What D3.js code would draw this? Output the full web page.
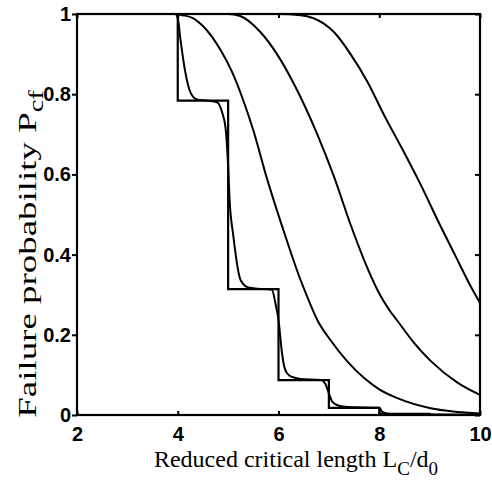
<!DOCTYPE html>
<html>
<head>
<meta charset="utf-8">
<script src="https://cdn.jsdelivr.net/npm/d3@7"></script>
<style>
  html, body { margin: 0; padding: 0; background: #fff; }
  svg { display: block; }
</style>
</head>
<body>
<svg id="chart" width="492" height="480"></svg>
<script>
// ---- data ----
const xTicks = [2, 4, 6, 8, 10];
const yTicks = [0, 0.2, 0.4, 0.6, 0.8, 1];

// discrete (staircase) failure probability
const stepX = [2, 4, 5, 6, 7, 8, 9, 10];
const stepP = [1, 0.784, 0.314, 0.087, 0.018, 0.003, 0.0005, 0.0005];

// smooth curve closely following the staircase
const curveAX = [2, 3.95, 4.0, 4.05, 4.15, 4.25, 4.38, 4.6, 4.78, 4.88, 4.95, 5.0, 5.03, 5.1, 5.25, 5.4, 5.6, 5.87, 5.94, 6.0, 6.07, 6.1, 6.17, 6.27, 6.44, 6.84, 6.94, 7.0, 7.07, 7.2, 7.37, 8.0, 8.06, 8.23, 9.0, 10];
const curveAP = [1, 1, 0.99, 0.94, 0.855, 0.805, 0.787, 0.784, 0.78, 0.755, 0.715, 0.62, 0.535, 0.45, 0.336, 0.318, 0.315, 0.312, 0.278, 0.237, 0.154, 0.129, 0.104, 0.095, 0.09, 0.087, 0.075, 0.054, 0.033, 0.023, 0.02, 0.018, 0.008, 0.0025, 0.001, 0.0005];

// broader curves
const curveBX = [2, 3.95, 4.1, 4.3, 4.5, 4.85, 5.08, 5.3, 5.5, 5.77, 6.1, 6.44, 6.6, 6.77, 7.03, 7.37, 7.7, 8.0, 8.36, 9.02, 10];
const curveBP = [1, 1, 0.997, 0.99, 0.97, 0.91, 0.855, 0.785, 0.71, 0.59, 0.46, 0.336, 0.286, 0.237, 0.187, 0.133, 0.092, 0.064, 0.042, 0.017, 0.004];

const curveCX = [2, 5.0, 5.24, 5.64, 5.97, 6.33, 6.77, 7.1, 7.43, 7.77, 8.0, 8.2, 8.36, 8.69, 9.02, 9.56, 10];
const curveCP = [1, 1, 0.995, 0.955, 0.9, 0.82, 0.70, 0.595, 0.475, 0.365, 0.303, 0.262, 0.235, 0.18, 0.135, 0.08, 0.05];

const curveDX = [2, 6.0, 6.44, 6.9, 7.1, 7.43, 7.77, 8.1, 8.45, 8.8, 9.22, 9.5, 9.82, 10];
const curveDP = [1, 1, 0.997, 0.976, 0.955, 0.9, 0.83, 0.747, 0.665, 0.58, 0.47, 0.40, 0.32, 0.28];

// ---- drawing ----
const svg = d3.select("#chart");
const L = 77, R = 480, T = 14, B = 415;
const x = d3.scaleLinear().domain([2, 10]).range([L, R]);
const y = d3.scaleLinear().domain([0, 1]).range([B, T]);

const tickFont = "'Liberation Sans', Arial, Helvetica, sans-serif";
const titleFont = "'Liberation Serif', 'Times New Roman', serif";
const fmt = d => String(d);

// bottom axis (ticks inward)
const gx = svg.append("g").attr("transform", `translate(0,${B})`)
  .call(d3.axisBottom(x).tickValues(xTicks).tickFormat(fmt).tickSizeInner(-4).tickSizeOuter(0).tickPadding(12));
// top axis ticks (inward, no labels)
const gxt = svg.append("g").attr("transform", `translate(0,${T})`)
  .call(d3.axisTop(x).tickValues(xTicks).tickFormat("").tickSizeInner(-4).tickSizeOuter(0));
// left axis (ticks outward as in reference)
const gy = svg.append("g").attr("transform", `translate(${L},0)`)
  .call(d3.axisLeft(y).tickValues(yTicks).tickFormat(fmt).tickSizeInner(5).tickSizeOuter(0).tickPadding(1));
// right axis ticks inward
const gyr = svg.append("g").attr("transform", `translate(${R},0)`)
  .call(d3.axisRight(y).tickValues(yTicks).tickFormat("").tickSizeInner(-5).tickSizeOuter(0));

[gx, gxt, gy, gyr].forEach(g => {
  g.select(".domain").remove();
  g.selectAll(".tick line").attr("stroke", "#000").attr("stroke-width", 2);
  g.selectAll("text").attr("fill", "#000").attr("font-family", tickFont)
    .attr("font-weight", "bold").attr("font-size", 20);
});

// frame
svg.append("rect").attr("x", L).attr("y", T).attr("width", R - L).attr("height", B - T)
  .attr("fill", "none").attr("stroke", "#000").attr("stroke-width", 2.2);

// clip path
svg.append("clipPath").attr("id", "clip").append("rect")
  .attr("x", L - 1).attr("y", T - 1).attr("width", R - L + 2).attr("height", B - T + 2);

const plot = svg.append("g").attr("clip-path", "url(#clip)");

const lineSmooth = d3.line().x(d => x(d[0])).y(d => y(d[1])).curve(d3.curveMonotoneX);
const lineStep = d3.line().x(d => x(d[0])).y(d => y(d[1])).curve(d3.curveStepAfter);

const stepPts = stepX.map((v, i) => [v, i < stepP.length ? stepP[i] : stepP[stepP.length - 1]]);
plot.append("path").attr("d", lineStep(stepPts))
  .attr("fill", "none").attr("stroke", "#000").attr("stroke-width", 2.2);

[[curveAX, curveAP], [curveBX, curveBP], [curveCX, curveCP], [curveDX, curveDP]].forEach(([xs, ps]) => {
  plot.append("path").attr("d", lineSmooth(xs.map((v, i) => [v, ps[i]])))
    .attr("fill", "none").attr("stroke", "#000").attr("stroke-width", 2)
    .attr("stroke-linejoin", "round");
});

// x axis title
const xt = svg.append("text").attr("x", 296).attr("y", 467)
  .attr("text-anchor", "middle").attr("font-family", titleFont).attr("font-size", 24).attr("fill", "#000");
xt.append("tspan").text("Reduced critical length L");
xt.append("tspan").attr("font-size", 19).attr("dy", 8).text("C");
xt.append("tspan").attr("dy", -8).text("/d");
xt.append("tspan").attr("font-size", 19).attr("dy", 8).text("0");

// y axis title
const yt = svg.append("text").attr("transform", "translate(36,254) rotate(-90) scale(1.42,1)")
  .attr("text-anchor", "middle").attr("font-family", titleFont).attr("font-size", 26).attr("fill", "#000");
yt.append("tspan").text("Failure probability P");
yt.append("tspan").attr("font-size", 20).attr("dy", 7).text("cf");
</script>
</body>
</html>
